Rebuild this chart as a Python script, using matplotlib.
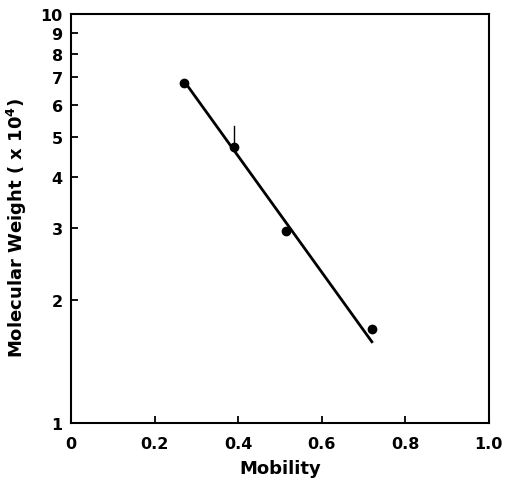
import matplotlib
matplotlib.use("Agg")
import matplotlib.pyplot as plt

mobility = [0.27, 0.39, 0.515, 0.72]
mol_weight = [6.8, 4.72, 2.95, 1.70]
err_top = [None, 5.32, None, None]
fit_x = [0.28, 0.72]
fit_y = [6.65, 1.58]
xticks = [0, 0.2, 0.4, 0.6, 0.8, 1.0]
xticklabels = ["0", "0.2", "0.4", "0.6", "0.8", "1.0"]
yticks = [1, 2, 3, 4, 5, 6, 7, 8, 9, 10]
yticklabels = [str(v) for v in yticks]

plt.rcParams['font.family'] = ['DejaVu Sans']
fig = plt.figure(figsize=(5.05, 4.81), dpi=100)
ax = fig.add_axes([0.1406, 0.1185, 0.8274, 0.8503])
ax.set_yscale('log')
ax.set_xlim(0, 1.0)
ax.set_ylim(1, 10)

ax.plot(fit_x, fit_y, color='black', lw=2.0)
ax.plot(mobility, mol_weight, 'o', color='black', ms=6)
for x, y, t in zip(mobility, mol_weight, err_top):
    if t is not None:
        ax.plot([x, x], [y, t], color='black', lw=1.0)

ax.set_xticks(xticks)
ax.set_xticklabels(xticklabels)
ax.yaxis.set_minor_locator(matplotlib.ticker.NullLocator())
ax.set_yticks(yticks)
ax.set_yticklabels(yticklabels)
ax.tick_params(direction='in', length=5, width=1.3, labelsize=11.5)
ax.tick_params(axis='x', pad=9)
ax.tick_params(axis='y', pad=6)
for lab in ax.get_xticklabels() + ax.get_yticklabels():
    lab.set_fontweight('bold')
for s in ax.spines.values():
    s.set_linewidth(1.5)

ax.set_xlabel('Mobility', fontsize=13, fontweight='bold', labelpad=6)
ax.set_ylabel('Molecular Weight ( x 10$^{\\bf 4}$)', fontsize=13, fontweight='bold')
ax.yaxis.set_label_coords(-0.10, 0.48)

fig.savefig('out.png', dpi=100)
